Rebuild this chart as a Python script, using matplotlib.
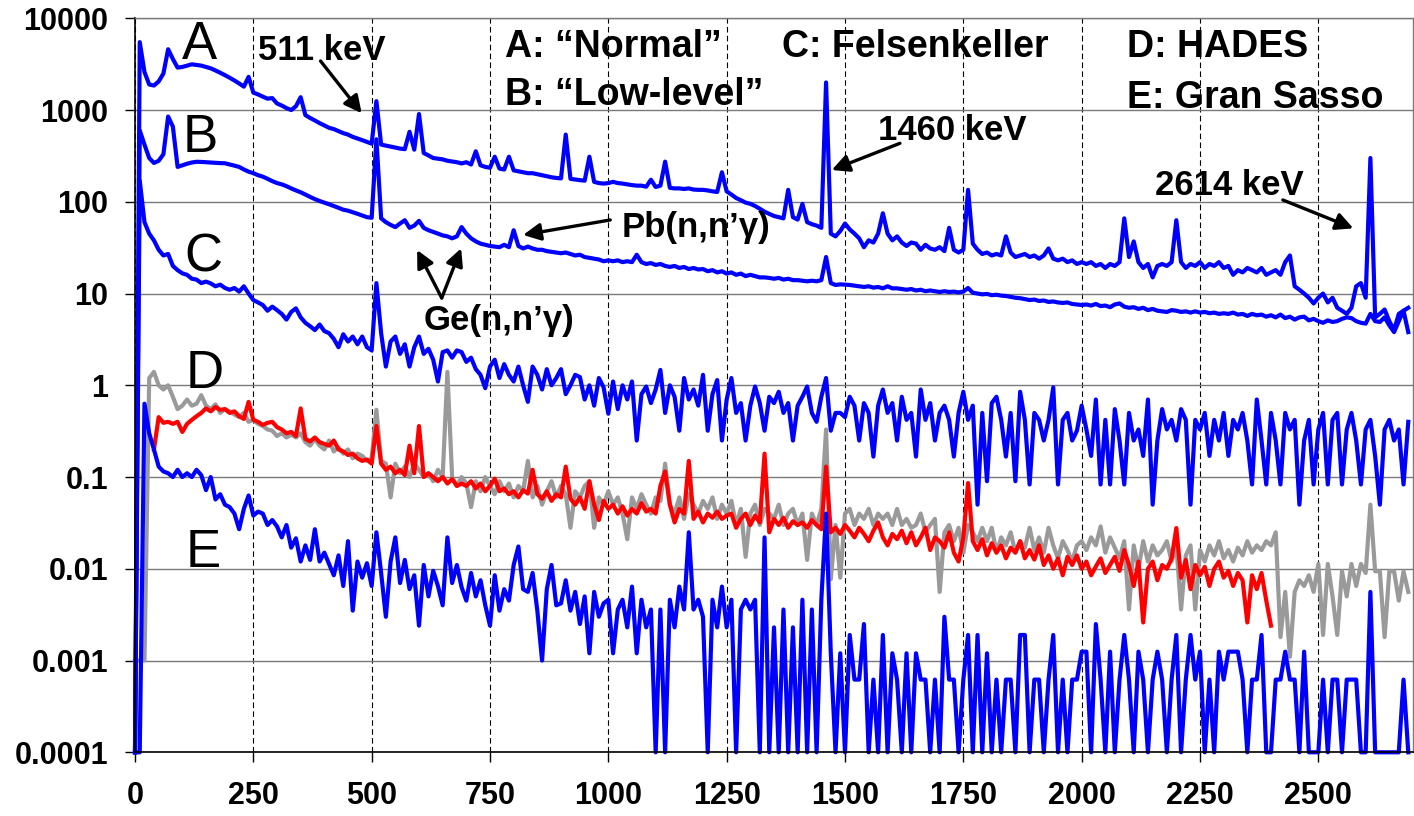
import numpy as np
import matplotlib
matplotlib.use("Agg")
from matplotlib import pyplot as plt

plt.rcParams['font.family'] = ['Liberation Sans', 'DejaVu Sans']

# spectra, one value every 10 keV starting at 0 keV (counts per keV per hour, say)
energy = np.arange(0, 2700, 10)

spec_a = [  # "Normal"
    1e-4, 5500, 2600, 1900, 1850, 2050, 2500, 4600, 3600, 2900,
    2950, 3050, 3150, 3100, 3050, 2950, 2850, 2700, 2550, 2400,
    2250, 2100, 1950, 1800, 2300, 1550, 1480, 1400, 1330, 1350,
    1180, 1120, 1050, 1000, 1100, 1380, 880, 820, 770, 720,
    680, 640, 620, 590, 560, 540, 510, 490, 470, 450,
    430, 1250, 420, 410, 400, 390, 380, 375, 580, 370,
    905, 340, 320, 300, 295, 290, 280, 275, 270, 262,
    270, 255, 355, 250, 240, 235, 310, 230, 225, 310,
    220, 215, 210, 205, 205, 200, 195, 190, 185, 182,
    180, 540, 178, 175, 172, 170, 310, 165, 160, 158,
    160, 165, 160, 158, 155, 152, 150, 150, 146, 174,
    145, 150, 274, 142, 140, 140, 138, 140, 136, 135,
    135, 133, 130, 128, 210, 130, 120, 110, 104, 98,
    95, 90, 84, 78, 74, 70, 68, 66, 135, 68,
    64, 95, 60, 57, 55, 52, 2000, 45, 42, 48,
    58, 50, 45, 40, 32, 38, 36, 45, 75, 45,
    38, 42, 36, 33, 36, 35, 30, 34, 31, 30,
    32, 29, 52, 30, 28, 30, 135, 35, 30, 27,
    28, 26, 27, 26, 42, 28, 25, 26, 27, 25,
    26, 24, 26, 31, 24, 23, 24, 22, 23, 21,
    22, 21, 22, 20, 21, 19, 21, 20, 22, 66,
    25, 37, 22, 19, 21, 15, 20, 21, 20, 22,
    63, 22, 19, 21, 20, 22, 19, 21, 20, 22,
    19, 20, 16, 18, 17, 19, 18, 17, 19, 16,
    17, 18, 16, 22, 26, 12, 11, 10, 9, 7.8,
    9, 10, 8, 9, 7, 6.5, 6, 7, 12, 13,
    9, 300, 5.5, 6, 6.7, 5, 4, 6, 6.5, 7,
]

spec_b = [  # "Low-level"
    1e-4, 600, 420, 300, 265, 280, 330, 850, 660, 240,
    250, 260, 268, 273, 272, 270, 268, 266, 264, 263,
    255, 248, 240, 225, 213, 205, 195, 188, 178, 168,
    160, 155, 148, 140, 133, 127, 120, 113, 107, 102,
    98, 94, 90, 86, 82, 80, 77, 74, 71, 68,
    67, 480, 66, 60, 56, 53, 58, 63, 52, 55,
    62, 52, 49, 47, 45, 43, 42, 40, 42, 53,
    45, 40, 37, 35, 34, 33, 32.5, 32, 34, 32,
    49, 33, 31, 32.5, 31, 30, 30, 29, 28.5, 28,
    27.5, 28, 27, 26, 26.5, 25, 24.5, 24, 23.5, 22.5,
    23, 22.5, 23, 22, 22.5, 22, 26.5, 22, 21, 21.5,
    20.5, 21, 20, 19.5, 20, 19, 19.5, 18.5, 19, 18.3,
    18.5, 17.5, 18, 17, 17.5, 16.5, 17, 16, 16.5, 15.5,
    16, 15.5, 15, 15, 14.8, 14.5, 14.8, 14.2, 14.5, 14,
    14, 13.8, 13.6, 13.8, 13.6, 14, 25, 13, 12.4, 12.6,
    12.5, 12.4, 12.2, 12, 11.8, 12, 11.6, 11.8, 11.4, 12,
    11.4, 11.4, 11.2, 11, 11.2, 10.8, 11, 10.6, 10.8, 10.6,
    10.4, 10.6, 10.4, 10.5, 10.3, 10.5, 11.5, 10.2, 10, 9.8,
    9.9, 9.6, 9.7, 9.5, 9.4, 9.2, 9.0, 8.9, 8.7, 8.5,
    8.6, 8.3, 8.4, 8.1, 8.2, 8.0, 7.9, 8.0, 7.7, 7.6,
    7.5, 7.6, 7.4, 7.7, 7.3, 7.4, 7.1, 7.6, 7.8, 7.2,
    7.0, 7.1, 6.8, 7.0, 6.6, 6.8, 6.5, 6.4, 6.3, 6.6,
    6.5, 6.3, 6.4, 6.2, 6.4, 6.2, 6.3, 6.1, 6.2, 6.0,
    6.1, 6.0, 6.2, 5.9, 6.0, 5.7, 6.0, 5.8, 5.9, 5.6,
    5.8, 5.5, 5.9, 5.4, 5.6, 5.2, 5.5, 5.6, 5.1, 5.3,
    5.0, 4.8, 5.1, 4.9, 5.0, 5.3, 5.5, 5.4, 5.0, 4.8,
    4.7, 6.0, 5.0, 4.9, 5.5, 4.5, 3.8, 5.0, 6.5, 3.8,
]

spec_c = [  # Felsenkeller
    1e-4, 170, 60, 45, 38, 30, 26, 27, 20, 18,
    16.6, 16, 14.5, 14.2, 13, 13.5, 12.9, 12, 12.5, 11.5,
    11, 11.5, 10.5, 12, 10, 8.5, 8, 7.5, 6.5, 7.2,
    6.6, 6, 5.2, 6.3, 6.9, 5.5, 4.8, 4.4, 4.0, 4.6,
    3.9, 3.7, 3.2, 2.6, 3.6, 3.0, 3.4, 2.8, 3.4, 2.6,
    2.4, 13, 3.7, 1.6, 3.0, 3.4, 2.2, 2.8, 1.6, 2.6,
    3.4, 2.2, 2.5, 1.9, 1.1, 2.3, 2.4, 2.0, 2.4, 2.3,
    1.8, 2.0, 1.5, 1.3, 0.93, 1.6, 1.9, 1.2, 1.7, 1.3,
    1.1, 1.6, 1.0, 0.66, 1.6, 1.3, 0.9, 1.5, 1.0, 1.2,
    1.5, 0.8, 1.0, 1.3, 1.23, 0.7, 1.0, 0.6, 1.2, 0.95,
    0.49, 1.1, 0.55, 1.0, 0.7, 1.1, 0.25, 0.8, 0.97, 0.64,
    0.9, 1.47, 0.5, 1.0, 0.75, 0.32, 1.2, 0.7, 0.9, 0.6,
    1.3, 0.32, 0.8, 1.14, 0.25, 0.7, 1.2, 0.5, 0.64, 0.25,
    0.6, 0.97, 0.64, 0.32, 0.75, 0.64, 0.85, 0.5, 0.64, 0.25,
    0.6, 0.75, 0.97, 0.5, 0.4, 0.75, 1.2, 0.32, 0.5, 0.5,
    0.45, 0.75, 0.6, 0.25, 0.64, 0.5, 0.167, 0.6, 0.9, 0.5,
    0.64, 0.25, 0.75, 0.42, 0.5, 0.167, 0.9, 0.42, 0.64, 0.25,
    0.5, 0.6, 0.42, 0.167, 0.5, 0.85, 0.42, 0.6, 0.05, 0.5,
    0.09, 0.64, 0.75, 0.42, 0.167, 0.5, 0.09, 0.85, 0.42, 0.083,
    0.5, 0.42, 0.25, 0.42, 0.95, 0.083, 0.42, 0.5, 0.25, 0.32,
    0.6, 0.33, 0.17, 0.7, 0.083, 0.42, 0.083, 0.55, 0.25, 0.083,
    0.5, 0.25, 0.33, 0.17, 0.7, 0.05, 0.25, 0.55, 0.33, 0.42,
    0.25, 0.55, 0.42, 0.05, 0.42, 0.33, 0.5, 0.17, 0.42, 0.25,
    0.5, 0.17, 0.42, 0.33, 0.5, 0.25, 0.083, 0.7, 0.25, 0.083,
    0.5, 0.25, 0.083, 0.5, 0.33, 0.42, 0.05, 0.25, 0.42, 0.083,
    0.33, 0.5, 0.083, 0.42, 0.5, 0.083, 0.33, 0.5, 0.25, 0.083,
    0.33, 0.42, 0.17, 0.05, 0.33, 0.42, 0.25, 0.33, 0.083, 0.4,
]

spec_d_grey = [  # HADES, second detector
    0.001, 0.001, 0.001, 1.2, 1.4, 1.0, 0.9, 1.0, 0.75, 0.55,
    0.6, 0.7, 0.6, 0.63, 0.78, 0.6, 0.55, 0.62, 0.5, 0.55,
    0.52, 0.48, 0.45, 0.5, 0.4, 0.42, 0.38, 0.36, 0.33, 0.32,
    0.28, 0.3, 0.27, 0.29, 0.27, 0.3, 0.24, 0.22, 0.26, 0.22,
    0.2, 0.25, 0.19, 0.21, 0.18, 0.2, 0.16, 0.18, 0.17, 0.15,
    0.16, 0.54, 0.15, 0.14, 0.06, 0.14, 0.11, 0.13, 0.1, 0.14,
    0.12, 0.1, 0.11, 0.09, 0.12, 0.1, 1.4, 0.1, 0.08, 0.1,
    0.085, 0.047, 0.09, 0.07, 0.1, 0.08, 0.065, 0.09, 0.07, 0.085,
    0.06, 0.08, 0.07, 0.15, 0.06, 0.08, 0.05, 0.07, 0.09, 0.06,
    0.08, 0.065, 0.028, 0.07, 0.06, 0.08, 0.09, 0.028, 0.06, 0.05,
    0.07, 0.05, 0.06, 0.04, 0.021, 0.06, 0.045, 0.065, 0.05, 0.04,
    0.06, 0.055, 0.14, 0.05, 0.04, 0.06, 0.035, 0.065, 0.05, 0.04,
    0.055, 0.045, 0.06, 0.035, 0.05, 0.04, 0.055, 0.03, 0.045, 0.0135,
    0.04, 0.05, 0.03, 0.045, 0.04, 0.035, 0.05, 0.03, 0.04, 0.045,
    0.03, 0.04, 0.0125, 0.04, 0.03, 0.045, 0.33, 0.0077, 0.03, 0.008,
    0.04, 0.045, 0.03, 0.04, 0.035, 0.045, 0.03, 0.04, 0.035, 0.04,
    0.03, 0.045, 0.03, 0.035, 0.028, 0.03, 0.04, 0.025, 0.03, 0.035,
    0.0056, 0.025, 0.03, 0.02, 0.028, 0.015, 0.03, 0.025, 0.02, 0.028,
    0.02, 0.028, 0.015, 0.022, 0.018, 0.025, 0.015, 0.02, 0.017, 0.028,
    0.016, 0.022, 0.015, 0.028, 0.018, 0.013, 0.02, 0.016, 0.012, 0.018,
    0.02, 0.016, 0.022, 0.018, 0.029, 0.015, 0.022, 0.017, 0.013, 0.02,
    0.0036, 0.018, 0.01, 0.02, 0.012, 0.018, 0.014, 0.016, 0.02, 0.012,
    0.018, 0.0036, 0.014, 0.018, 0.0036, 0.016, 0.012, 0.018, 0.014, 0.02,
    0.013, 0.016, 0.012, 0.017, 0.014, 0.02, 0.015, 0.018, 0.016, 0.02,
    0.018, 0.025, 0.0018, 0.0056, 0.0011, 0.0056, 0.0075, 0.0065, 0.0085, 0.0056,
    0.0113, 0.0019, 0.0113, 0.005, 0.0019, 0.0094, 0.005, 0.0113, 0.0065, 0.0113,
    0.009, 0.05, 0.0094, 0.0094, 0.0018, 0.0094, 0.0094, 0.0045, 0.0094, 0.0056,
]

spec_d_red = [  # HADES, up to 2400 keV
    np.nan, np.nan, np.nan, np.nan, 0.2, 0.45, 0.39, 0.4, 0.38, 0.4,
    0.31, 0.38, 0.42, 0.46, 0.5, 0.56, 0.52, 0.58, 0.54, 0.55,
    0.5, 0.52, 0.46, 0.43, 0.66, 0.42, 0.4, 0.37, 0.39, 0.4,
    0.35, 0.33, 0.3, 0.31, 0.28, 0.56, 0.26, 0.245, 0.27, 0.24,
    0.23, 0.22, 0.25, 0.2, 0.19, 0.174, 0.18, 0.16, 0.15, 0.155,
    0.14, 0.36, 0.14, 0.12, 0.13, 0.11, 0.12, 0.105, 0.22, 0.11,
    0.36, 0.1, 0.11, 0.1, 0.09, 0.1, 0.085, 0.095, 0.08, 0.085,
    0.08, 0.09, 0.075, 0.085, 0.07, 0.08, 0.096, 0.07, 0.075, 0.065,
    0.07, 0.06, 0.072, 0.066, 0.12, 0.065, 0.058, 0.07, 0.055, 0.065,
    0.06, 0.13, 0.058, 0.05, 0.06, 0.045, 0.09, 0.05, 0.034, 0.055,
    0.045, 0.05, 0.04, 0.048, 0.038, 0.045, 0.04, 0.052, 0.042, 0.045,
    0.04, 0.08, 0.115, 0.05, 0.032, 0.045, 0.04, 0.15, 0.035, 0.042,
    0.032, 0.04, 0.036, 0.042, 0.035, 0.038, 0.04, 0.028, 0.035, 0.04,
    0.03, 0.038, 0.032, 0.18, 0.025, 0.035, 0.03, 0.036, 0.028, 0.033,
    0.03, 0.032, 0.028, 0.034, 0.03, 0.027, 0.13, 0.025, 0.028, 0.024,
    0.03, 0.026, 0.022, 0.028, 0.024, 0.02, 0.026, 0.032, 0.022, 0.018,
    0.024, 0.021, 0.026, 0.019, 0.025, 0.018, 0.022, 0.028, 0.016, 0.022,
    0.02, 0.017, 0.025, 0.015, 0.012, 0.022, 0.086, 0.02, 0.016, 0.021,
    0.014, 0.019, 0.015, 0.018, 0.013, 0.017, 0.015, 0.02, 0.013, 0.016,
    0.0126, 0.018, 0.011, 0.014, 0.01, 0.013, 0.0085, 0.0135, 0.011, 0.014,
    0.01, 0.012, 0.0085, 0.0106, 0.013, 0.009, 0.011, 0.0135, 0.0095, 0.016,
    0.011, 0.0065, 0.012, 0.0026, 0.01, 0.012, 0.0075, 0.011, 0.01, 0.013,
    0.0278, 0.008, 0.0125, 0.006, 0.011, 0.0085, 0.0105, 0.0065, 0.01, 0.012,
    0.008, 0.0095, 0.0065, 0.009, 0.0075, 0.0026, 0.0085, 0.006, 0.009, 0.0045,
    0.0024,
]

spec_e = [  # Gran Sasso
    0, 0, 0.63, 0.3, 0.2, 0.13, 0.115, 0.11, 0.1, 0.12,
    0.1, 0.11, 0.1, 0.12, 0.105, 0.072, 0.1, 0.057, 0.065, 0.05,
    0.047, 0.04, 0.027, 0.045, 0.063, 0.038, 0.042, 0.04, 0.03, 0.034,
    0.029, 0.022, 0.03, 0.017, 0.0215, 0.012, 0.018, 0.0125, 0.027, 0.012,
    0.015, 0.0113, 0.0085, 0.014, 0.0065, 0.02, 0.0035, 0.012, 0.008, 0.0115,
    0.0065, 0.025, 0.009, 0.003, 0.012, 0.022, 0.007, 0.0125, 0.006, 0.0085,
    0.0024, 0.011, 0.005, 0.0095, 0.0065, 0.004, 0.022, 0.007, 0.011, 0.0063,
    0.0045, 0.009, 0.005, 0.0075, 0.004, 0.0024, 0.0085, 0.0035, 0.006, 0.0045,
    0.011, 0.0175, 0.006, 0.0056, 0.009, 0.0035, 0.001, 0.006, 0.011, 0.004,
    0.0042, 0.0075, 0.0035, 0.0056, 0.0025, 0.005, 0.0012, 0.0056, 0.003, 0.0042,
    0.0046, 0.0012, 0.0036, 0.0046, 0.0023, 0.0064, 0.0012, 0.0046, 0.0023, 0.0036,
    0, 0.0036, 0, 0.0046, 0.0023, 0.0064, 0.0036, 0.025, 0.0036, 0.0046,
    0.003, 0, 0.0046, 0.0023, 0.0064, 0.0023, 0.0046, 0, 0.0036, 0.0046,
    0.0036, 0.0046, 0, 0.022, 0, 0.0023, 0, 0.0036, 0, 0.0023,
    0, 0.0046, 0, 0.0036, 0, 0.0046, 0.04, 0.0012, 0, 0.0012,
    0, 0.0019, 0.00062, 0.00062, 0.0025, 0, 0.00062, 0, 0.0019, 0,
    0.0012, 0.00062, 0, 0.0012, 0, 0.0012, 0.00062, 0.00062, 0, 0.00062,
    0, 0.003, 0.00062, 0.00062, 0, 0.00062, 0.0019, 0, 0.0019, 0,
    0.0012, 0, 0.00062, 0, 0.00062, 0.00062, 0, 0.0019, 0.0019, 0,
    0.00062, 0.00062, 0, 0.00062, 0.0019, 0, 0.00062, 0, 0.00062, 0.00062,
    0.00125, 0.00125, 0, 0.0025, 0.00062, 0, 0.00125, 0, 0.00062, 0.0019,
    0.00062, 0, 0.00125, 0.00062, 0, 0.00062, 0.00125, 0.00062, 0, 0.00062,
    0.0019, 0, 0.00062, 0.0019, 0.00062, 0.00125, 0, 0.00062, 0, 0.00125,
    0.00062, 0.00125, 0.00125, 0.00125, 0.00062, 0, 0.00062, 0.00062, 0.0019, 0,
    0, 0.00062, 0.00062, 0.00125, 0.00062, 0.00062, 0, 0.00125, 0, 0,
    0, 0.00062, 0, 0.00062, 0.00062, 0, 0.00062, 0.00062, 0.00062, 0,
    0, 0.0056, 0, 0, 0, 0, 0, 0, 0.00062, 0,
]

ytick_vals = [1e-4, 1e-3, 1e-2, 1e-1, 1, 10, 100, 1000, 10000]
ytick_text = ['0.0001', '0.001', '0.01', '0.1', '1', '10', '100', '1000', '10000']
xtick_vals = list(range(0, 2501, 250))

blue = '#0000ff'
red = '#ff0000'
grey = '#9a9a9a'
floor = 1e-4   # empty bins are drawn on the bottom edge

fig = plt.figure(figsize=(14.14, 8.16), dpi=100)
ax = fig.add_axes([135 / 1414, 1 - 752.3 / 816, 1278 / 1414, 734 / 816])

lw = 3.0
ax.plot(energy, np.clip(spec_d_grey, floor, None), color=grey, lw=lw, clip_on=False)
ax.plot(energy[:len(spec_d_red)], spec_d_red, color=red, lw=lw, clip_on=False)
for spec in (spec_e, spec_c, spec_b, spec_a):
    ax.plot(energy, np.clip(spec, floor, None), color=blue, lw=lw, clip_on=False)

ax.set_yscale('log')
ax.set_xlim(0, 2700)
ax.set_ylim(1e-4, 1e4)
ax.set_xticks(xtick_vals)
ax.set_xticklabels([str(v) for v in xtick_vals])
ax.set_yticks(ytick_vals)
ax.set_yticklabels(ytick_text)
ax.minorticks_off()
ax.tick_params(axis='both', direction='out', length=7, width=1, labelsize=22)
ax.tick_params(axis='y', pad=12)
ax.tick_params(axis='x', pad=14)
for lab in ax.get_xticklabels() + ax.get_yticklabels():
    lab.set_fontweight('bold')

ax.set_axisbelow(True)
ax.yaxis.grid(True, color='#7a7a7a', lw=1.0)
ax.xaxis.grid(True, color='black', lw=0.8, ls=(0, (5, 3)))
for side in ('top', 'right'):
    ax.spines[side].set_color('#7a7a7a')
    ax.spines[side].set_linewidth(1.0)
for side in ('left', 'bottom'):
    ax.spines[side].set_color('black')
    ax.spines[side].set_linewidth(1.2)

# curve letters
for letter, xe, ye in [('A', 137, 5100), ('B', 137, 490), ('C', 144, 25),
                       ('D', 148, 1.33), ('E', 144, 0.0148)]:
    ax.text(xe, ye, letter, fontsize=38, ha='center', va='center')

# site legend
bold = dict(fontsize=27, fontweight='bold', ha='left', va='baseline')
ax.text(782, 3780, 'A: \u201cNormal\u201d', **bold)
ax.text(782, 1135, 'B: \u201cLow-level\u201d', **bold)
ax.text(1366, 3780, 'C: Felsenkeller', **bold)
ax.text(2095, 3780, 'D: HADES', **bold)
ax.text(2095, 1045, 'E: Gran Sasso', **bold)

# line labels with arrows
arrow = dict(arrowstyle='-|>', color='black', lw=2.4, mutation_scale=26,
             shrinkA=0, shrinkB=0)
lab = dict(fontsize=25, fontweight='bold', ha='left', va='baseline')
ax.text(260, 3512, '511 keV', **lab)
ax.annotate('', xy=(479, 922), xytext=(392, 3425), arrowprops=arrow)
ax.text(1570, 472, '1460 keV', **lab)
ax.annotate('', xy=(1472, 222), xytext=(1616, 434), arrowprops=arrow)
ax.text(2155, 118.6, '2614 keV', **lab)
ax.annotate('', xy=(2574, 51.4), xytext=(2425, 104.7), arrowprops=arrow)
ax.text(1028, 41.4, 'Pb(n,n\u2019\u03b3)', **lab)
ax.annotate('', xy=(820, 43.5), xytext=(1004, 63.4), arrowprops=arrow)
ax.text(609, 4.0, 'Ge(n,n\u2019\u03b3)', **lab)
ax.annotate('', xy=(596, 29.8), xytext=(648, 8.95), arrowprops=arrow)
ax.annotate('', xy=(689, 31.1), xytext=(648, 8.95), arrowprops=arrow)

fig.savefig('out.png', dpi=100)
